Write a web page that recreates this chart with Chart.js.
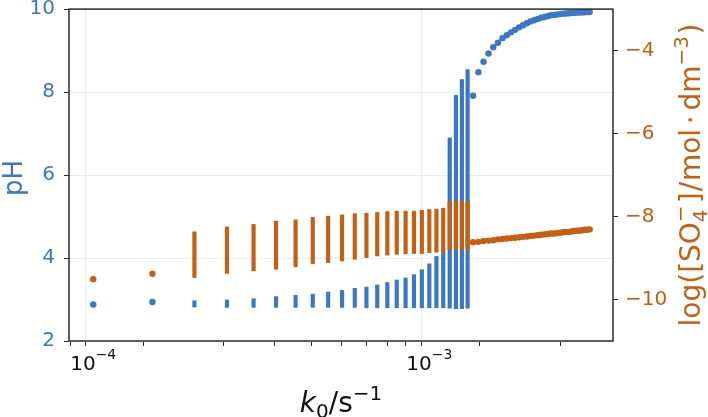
<!DOCTYPE html>
<html>
<head>
<meta charset="utf-8">
<script src="https://cdn.jsdelivr.net/npm/chart.js@4"></script>
<style>
  html, body { margin: 0; padding: 0; background: #fff; }
</style>
</head>
<body>
<canvas id="chart" width="708" height="417"></canvas>
<script>
const BLUE = "#3b78c3";
const ORANGE = "#c65f12";

// oscillating region: min / max of each run
const oscK = [2.0e-4, 2.5e-4, 3.0e-4, 3.5e-4, 4.0e-4, 4.5e-4, 5.0e-4, 5.5e-4, 6.0e-4, 6.5e-4,
  7.0e-4, 7.5e-4, 8.0e-4, 8.5e-4, 9.0e-4, 9.5e-4, 1.0e-3, 1.05e-3, 1.1e-3, 1.15e-3, 1.2e-3, 1.25e-3, 1.3e-3];
const phMin = [2.82, 2.81, 2.81, 2.81, 2.81, 2.81, 2.81, 2.81, 2.81, 2.80, 2.80, 2.80, 2.80, 2.80,
  2.80, 2.80, 2.80, 2.80, 2.80, 2.79, 2.78, 2.78, 2.79];
const phMax = [2.97, 2.99, 3.02, 3.07, 3.10, 3.13, 3.18, 3.22, 3.27, 3.30, 3.35, 3.41, 3.47, 3.52,
  3.60, 3.72, 3.86, 4.04, 4.22, 6.90, 7.92, 8.30, 8.54];
const so4Min = [-9.47, -9.37, -9.31, -9.27, -9.21, -9.14, -9.11, -9.07, -9.03, -8.99, -8.95, -8.93,
  -8.91, -8.90, -8.89, -8.89, -8.87, -8.86, -8.85, -8.80, -8.79, -8.79, -8.79];
const so4Max = [-8.37, -8.25, -8.19, -8.11, -8.08, -8.02, -7.99, -7.96, -7.93, -7.92, -7.90, -7.88,
  -7.87, -7.87, -7.87, -7.85, -7.83, -7.82, -7.80, -7.64, -7.63, -7.63, -7.63];

// steady states
const stK = [1.0e-4, 1.5e-4, 1.35e-3, 1.40e-3, 1.45e-3, 1.50e-3, 1.55e-3, 1.60e-3, 1.65e-3, 1.70e-3,
  1.75e-3, 1.80e-3, 1.85e-3, 1.90e-3, 1.95e-3, 2.00e-3, 2.05e-3, 2.10e-3, 2.15e-3, 2.20e-3, 2.25e-3,
  2.30e-3, 2.35e-3, 2.40e-3, 2.45e-3, 2.50e-3, 2.55e-3, 2.60e-3, 2.65e-3, 2.70e-3, 2.75e-3, 2.80e-3,
  2.85e-3, 2.90e-3, 2.95e-3, 3.00e-3];
const stPH = [2.88, 2.94, 7.91, 8.48, 8.73, 8.93, 9.08, 9.19, 9.30, 9.37, 9.44, 9.50, 9.56, 9.61,
  9.66, 9.70, 9.73, 9.76, 9.79, 9.81, 9.83, 9.85, 9.86, 9.87, 9.88, 9.89, 9.895, 9.90, 9.905, 9.91,
  9.915, 9.92, 9.92, 9.925, 9.93, 9.93];
const stSO4 = [-9.51, -9.38, -8.62, -8.61, -8.59, -8.58, -8.57, -8.55, -8.54, -8.53, -8.52, -8.51,
  -8.50, -8.49, -8.48, -8.47, -8.46, -8.45, -8.44, -8.43, -8.42, -8.41, -8.41, -8.40, -8.39, -8.38,
  -8.37, -8.37, -8.36, -8.35, -8.34, -8.34, -8.33, -8.32, -8.32, -8.31];

const xTicks = [9e-5, 1e-4, 2e-4, 3e-4, 4e-4, 5e-4, 6e-4, 7e-4, 8e-4, 9e-4, 1e-3, 2e-3, 3e-3];
const xMajor = [1e-4, 1e-3];
const xMajorExp = ["−4", "−3"];
const phTicks = [2, 4, 6, 8, 10];
const so4Ticks = [-10, -8, -6, -4];

Chart.defaults.font.family = "'DejaVu Sans', sans-serif";

// draws a run of text pieces (sub/superscripts, italic) centred on x
function drawRich(ctx, pieces, size, x, y) {
  const fontOf = (p) => (p.it ? "italic " : "") + Math.round(size * (p.s || 1)) + "px 'DejaVu Sans'";
  let total = 0;
  const widths = pieces.map((p) => {
    ctx.font = fontOf(p);
    let w = ctx.measureText(p.t).width;
    if (p.st) w = Math.max(w, ctx.measureText(p.st).width);
    w += (p.gap || 0) * size;
    total += w;
    return w;
  });
  let cx = x - total / 2;
  ctx.textAlign = "left";
  ctx.textBaseline = "alphabetic";
  pieces.forEach((p, i) => {
    ctx.font = fontOf(p);
    ctx.fillText(p.t, cx, y + (p.dy || 0) * size);
    if (p.st) ctx.fillText(p.st, cx, y + p.sdy * size);
    cx += widths[i];
  });
}

const frameAndTitles = {
  id: "frameAndTitles",
  afterDraw(chart) {
    const { ctx, chartArea: a } = chart;
    const midY = (a.top + a.bottom) / 2;
    const xs = chart.scales.x;
    ctx.save();
    ctx.strokeStyle = "#2b2b2b";
    ctx.lineWidth = 1.5;
    ctx.strokeRect(a.left, a.top, a.right - a.left, a.bottom - a.top);

    // x major tick labels as 10 with a real superscript
    ctx.fillStyle = "#111";
    xMajor.forEach((v, i) => {
      drawRich(ctx, [
        { t: "10" },
        { t: xMajorExp[i], s: 0.7, dy: -0.55 },
      ], 20, xs.getPixelForValue(v), a.bottom + 29);
    });

    drawRich(ctx, [
      { t: "k", it: true },
      { t: "0", s: 0.7, dy: 0.22 },
      { t: "/s" },
      { t: "−1", s: 0.7, dy: -0.42 },
    ], 28, (a.left + a.right) / 2, 412);

    ctx.save();
    ctx.fillStyle = BLUE;
    ctx.translate(22, midY + 3);
    ctx.rotate(-Math.PI / 2);
    drawRich(ctx, [{ t: "pH" }], 26, 0, 0);
    ctx.restore();

    ctx.save();
    ctx.fillStyle = ORANGE;
    ctx.translate(700, midY);
    ctx.rotate(-Math.PI / 2);
    drawRich(ctx, [
      { t: "log([SO" },
      { t: "4", s: 0.7, dy: 0.25, st: "−", sdy: -0.45, gap: 0.08 },
      { t: "]", gap: 0.03 },
      { t: "/", gap: 0.03 },
      { t: "mol", gap: 0.17 },
      { t: "·", gap: 0.17 },
      { t: "dm" },
      { t: "−3", s: 0.7, dy: -0.42, gap: 0.05 },
      { t: ")" },
    ], 28, 0, 0);
    ctx.restore();
    ctx.restore();
  },
};

new Chart(document.getElementById("chart"), {
  type: "scatter",
  data: {
    datasets: [
      {
        type: "bar",
        label: "pH range",
        data: oscK.map((k, i) => ({ x: k, y: [phMin[i], phMax[i]] })),
        backgroundColor: BLUE,
        barThickness: 3.5,
        grouped: false,
        yAxisID: "y",
        order: 1,
      },
      {
        type: "bar",
        label: "SO4 range",
        data: oscK.map((k, i) => ({ x: k, y: [so4Min[i], so4Max[i]] })),
        backgroundColor: ORANGE,
        barThickness: 3.5,
        grouped: false,
        yAxisID: "y2",
        order: 0,
      },
      {
        label: "pH",
        data: stK.map((k, i) => ({ x: k, y: stPH[i] })),
        backgroundColor: BLUE,
        pointRadius: 3.2,
        pointBorderWidth: 0,
        yAxisID: "y",
        order: 1,
      },
      {
        label: "SO4",
        data: stK.map((k, i) => ({ x: k, y: stSO4[i] })),
        backgroundColor: ORANGE,
        pointRadius: 3.2,
        pointBorderWidth: 0,
        yAxisID: "y2",
        order: 0,
      },
    ],
  },
  options: {
    responsive: false,
    animation: false,
    layout: { padding: 0 },
    plugins: {
      legend: { display: false },
      tooltip: { enabled: false },
    },
    scales: {
      x: {
        type: "logarithmic",
        min: 8.47e-5,
        max: 3.52e-3,
        afterBuildTicks: (s) => { s.ticks = xTicks.map((v) => ({ value: v })); },
        afterFit: (s) => { s.height = 76; },
        border: { display: false },
        grid: {
          color: (c) => (c.tick && xMajor.includes(c.tick.value) ? "#ececec" : "rgba(0,0,0,0)"),
          tickColor: "#2b2b2b",
          tickLength: 5,
        },
        ticks: {
          autoSkip: false,
          maxRotation: 0,
          font: { size: 20 },
          callback: () => "",
        },
      },
      y: {
        position: "left",
        min: 2,
        max: 10,
        afterBuildTicks: (s) => { s.ticks = phTicks.map((v) => ({ value: v })); },
        afterFit: (s) => { s.width = 69; },
        border: { display: false },
        grid: { color: "#ececec", tickColor: "#2b2b2b", tickLength: 5 },
        ticks: { color: BLUE, font: { size: 20, lineHeight: 0.01 }, padding: 9 },
      },
      y2: {
        position: "right",
        min: -11,
        max: -3,
        afterBuildTicks: (s) => { s.ticks = so4Ticks.map((v) => ({ value: v })); },
        afterFit: (s) => { s.width = 95; },
        border: { display: false },
        grid: { drawOnChartArea: false, tickColor: "#2b2b2b", tickLength: 5 },
        ticks: {
          color: ORANGE,
          font: { size: 20, lineHeight: 0.01 },
          padding: 7,
          callback: (v) => (v < 0 ? "\u2212" + Math.abs(v) : String(v)),
        },
      },
    },
  },
  plugins: [frameAndTitles],
});
</script>
</body>
</html>
